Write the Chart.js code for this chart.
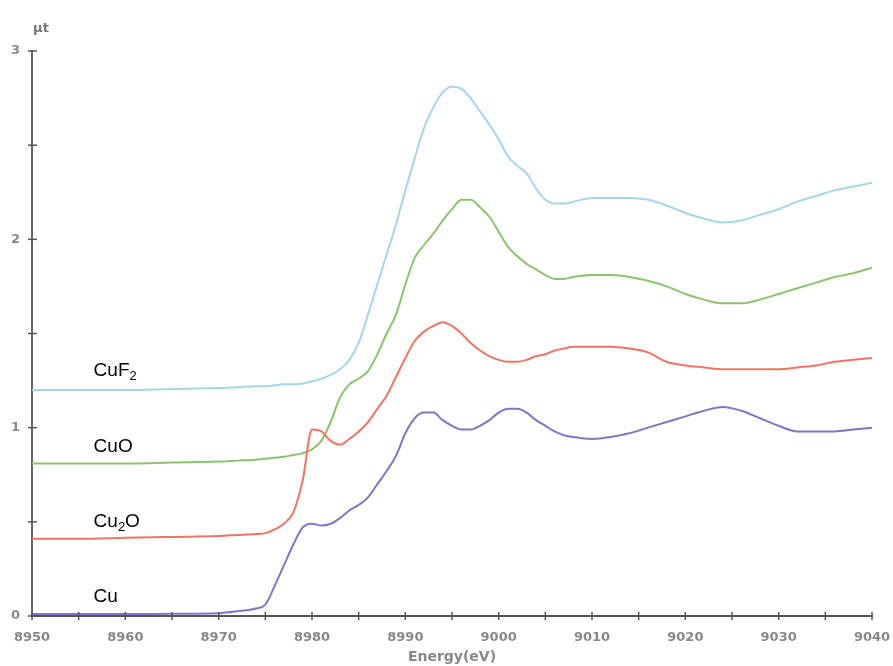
<!DOCTYPE html>
<html>
<head>
<meta charset="utf-8">
<script src="https://cdn.jsdelivr.net/npm/chart.js@4.4.1/dist/chart.umd.min.js"></script>
<style>
  html, body { margin: 0; padding: 0; background: #fff; }
  #wrap { width: 893px; height: 666px; }
</style>
</head>
<body>
<div id="wrap"><canvas id="chartXanes"></canvas></div>
<script>
const energia = [8950, 8955, 8960, 8965, 8970, 8972, 8974, 8975, 8976, 8977, 8978, 8979, 8980, 8981, 8982, 8983, 8984, 8985, 8986, 8987, 8988, 8989, 8990, 8991, 8992, 8993, 8994, 8995, 8996, 8997, 8998, 8999, 9000, 9001, 9002, 9003, 9004, 9005, 9006, 9007, 9008, 9010, 9012, 9014, 9016, 9018, 9020, 9022, 9024, 9026, 9028, 9030, 9032, 9034, 9036, 9038, 9040];

const muCu = [0.01, 0.01, 0.01, 0.012, 0.015, 0.025, 0.04, 0.06, 0.16, 0.27, 0.38, 0.47, 0.49, 0.48, 0.49, 0.52, 0.56, 0.59, 0.63, 0.70, 0.77, 0.85, 0.97, 1.05, 1.08, 1.08, 1.04, 1.01, 0.99, 0.99, 1.01, 1.04, 1.08, 1.10, 1.10, 1.08, 1.04, 1.01, 0.98, 0.96, 0.95, 0.94, 0.95, 0.97, 1.00, 1.03, 1.06, 1.09, 1.11, 1.09, 1.05, 1.01, 0.98, 0.98, 0.98, 0.99, 1.00];

const muCu2O = [0.41, 0.41, 0.415, 0.42, 0.425, 0.43, 0.435, 0.44, 0.46, 0.49, 0.55, 0.72, 0.99, 0.98, 0.93, 0.91, 0.94, 0.98, 1.03, 1.10, 1.17, 1.27, 1.37, 1.46, 1.51, 1.54, 1.56, 1.54, 1.50, 1.45, 1.41, 1.38, 1.36, 1.35, 1.35, 1.36, 1.38, 1.39, 1.41, 1.42, 1.43, 1.43, 1.43, 1.42, 1.40, 1.35, 1.33, 1.32, 1.31, 1.31, 1.31, 1.31, 1.32, 1.33, 1.35, 1.36, 1.37];

const muCuO = [0.81, 0.81, 0.81, 0.815, 0.82, 0.825, 0.83, 0.835, 0.84, 0.845, 0.855, 0.865, 0.885, 0.93, 1.03, 1.16, 1.23, 1.26, 1.30, 1.39, 1.50, 1.60, 1.76, 1.90, 1.97, 2.03, 2.10, 2.16, 2.21, 2.21, 2.17, 2.12, 2.04, 1.96, 1.91, 1.87, 1.84, 1.81, 1.79, 1.79, 1.80, 1.81, 1.81, 1.80, 1.78, 1.75, 1.71, 1.68, 1.66, 1.66, 1.68, 1.71, 1.74, 1.77, 1.80, 1.82, 1.85];

const muCuF2 = [1.20, 1.20, 1.20, 1.205, 1.21, 1.215, 1.22, 1.22, 1.225, 1.23, 1.23, 1.235, 1.245, 1.26, 1.28, 1.31, 1.36, 1.45, 1.60, 1.76, 1.92, 2.08, 2.26, 2.43, 2.59, 2.70, 2.78, 2.81, 2.80, 2.75, 2.68, 2.61, 2.53, 2.44, 2.39, 2.35, 2.27, 2.21, 2.19, 2.19, 2.20, 2.22, 2.22, 2.22, 2.21, 2.18, 2.14, 2.11, 2.09, 2.10, 2.13, 2.16, 2.20, 2.23, 2.26, 2.28, 2.30];

// etiquetas de cada curva: [texto, subindice, resto], posicion en unidades de datos
const etiquetas = [["Cu", "", ""], ["Cu", "2", "O"], ["CuO", "", ""], ["CuF", "2", ""]];
const etiquetaX = 8956.6;
const etiquetaY = [0.11, 0.51, 0.91, 1.31];

const colores = ["#8474c8", "#f07464", "#8cc46c", "#a4d6e8"];
const series = [muCu, muCu2O, muCuO, muCuF2];

const puntos = arr => energia.map((e, i) => ({ x: e, y: arr[i] }));

// ===========================
// TICKS QUE CRUZAN EL EJE + TEXTOS
// ===========================
const extras = {
  id: "extras",
  afterDraw(chart) {
    const { ctx, scales: { x, y } } = chart;
    ctx.save();
    ctx.strokeStyle = "#555";
    ctx.lineWidth = 1.5;
    x.ticks.forEach(t => {
      const px = x.getPixelForValue(t.value);
      ctx.beginPath();
      ctx.moveTo(px, y.bottom - 4);
      ctx.lineTo(px, y.bottom + 4);
      ctx.stroke();
    });
    y.ticks.forEach(t => {
      const py = y.getPixelForValue(t.value);
      ctx.beginPath();
      ctx.moveTo(x.left - 4, py);
      ctx.lineTo(x.left + 5, py);
      ctx.stroke();
    });

    ctx.fillStyle = "#777";
    ctx.font = "bold 13px 'DejaVu Sans'";
    ctx.textAlign = "center";
    ctx.textBaseline = "middle";
    ctx.fillText("\u03bct", x.left + 9, y.top - 22);

    ctx.fillStyle = "#000";
    ctx.textAlign = "left";
    ctx.textBaseline = "alphabetic";
    etiquetas.forEach((e, i) => {
      let px = x.getPixelForValue(etiquetaX);
      const py = y.getPixelForValue(etiquetaY[i]) + 7;
      ctx.font = "19px 'Liberation Sans'";
      ctx.fillText(e[0], px, py);
      px += ctx.measureText(e[0]).width;
      if (e[1]) {
        ctx.font = "13px 'Liberation Sans'";
        ctx.fillText(e[1], px, py + 4);
        px += ctx.measureText(e[1]).width;
      }
      if (e[2]) {
        ctx.font = "19px 'Liberation Sans'";
        ctx.fillText(e[2], px, py);
      }
    });
    ctx.restore();
  }
};

new Chart(document.getElementById("chartXanes"), {
  type: "line",
  data: {
    datasets: series.map((s, i) => ({
      data: puntos(s),
      borderColor: colores[i],
      borderWidth: 2,
      pointRadius: 0,
      tension: 0.4,
      cubicInterpolationMode: "monotone",
      fill: false
    }))
  },
  options: {
    responsive: true,
    maintainAspectRatio: false,
    animation: false,
    layout: { padding: { top: 51, right: 21, left: 0, bottom: 0 } },
    plugins: { legend: { display: false }, tooltip: { enabled: false } },
    scales: {
      x: {
        type: "linear",
        min: 8950,
        max: 9040,
        border: { color: "#555", width: 2 },
        grid: { display: false },
        ticks: {
          stepSize: 5,
          color: "#888",
          font: { family: "DejaVu Sans", size: 13, weight: "bold" },
          padding: 6,
          maxRotation: 0,
          autoSkip: false,
          callback: v => (v % 10 === 0 ? String(v) : "")
        },
        title: {
          display: true,
          text: "Energy(eV)",
          color: "#888",
          font: { family: "DejaVu Sans", size: 14, weight: "bold" },
          padding: { top: 0, bottom: 0 }
        },
        afterFit: s => { s.height = 50; s.paddingRight = 0; s.paddingLeft = 0; }
      },
      y: {
        min: 0,
        max: 3,
        border: { color: "#666", width: 2 },
        grid: { display: false },
        ticks: {
          stepSize: 0.5,
          color: "#888",
          font: { family: "DejaVu Sans", size: 13, weight: "bold" },
          padding: 4,
          callback: v => (Number.isInteger(v) ? String(v) : "")
        },
        afterFit: s => { s.width = 32; }
      }
    }
  },
  plugins: [extras]
});
</script>
</body>
</html>
